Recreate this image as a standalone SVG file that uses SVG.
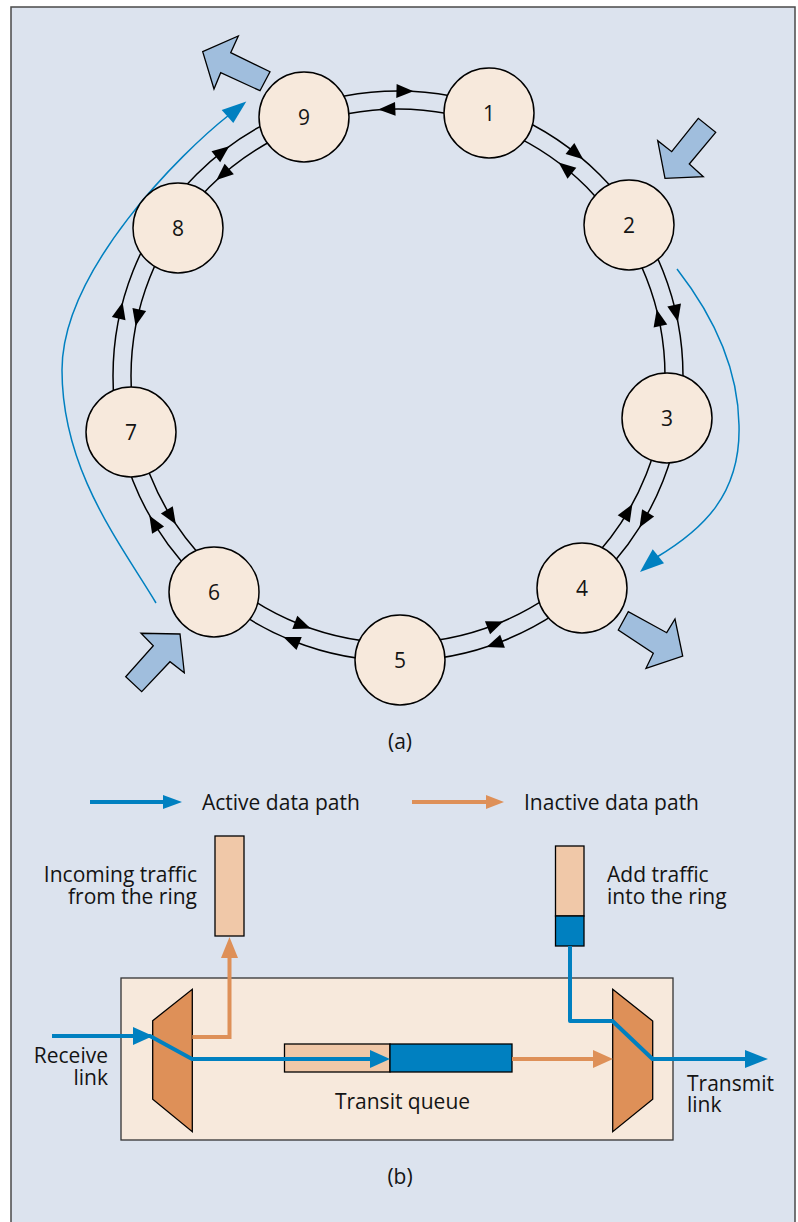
<svg xmlns="http://www.w3.org/2000/svg" width="798" height="1222" viewBox="0 0 798 1222">
<style>
.t{font-family:"Open Sans","Noto Sans","Liberation Sans",sans-serif;font-size:21px;fill:#141414}
.m{text-anchor:middle}
.e{text-anchor:end}
.node{fill:#f7e9dc;stroke:#000;stroke-width:1.5}
.ring{fill:none;stroke:#000;stroke-width:1.5}
.fat{fill:#a0bedd;stroke:#000;stroke-width:1.3}
.blue{fill:none;stroke:#0080c0;stroke-width:1.5}
.bl{fill:none;stroke:#0080c0;stroke-width:4;stroke-linejoin:round}
.or{fill:none;stroke:#de9058;stroke-width:4;stroke-linejoin:miter}
.bf{fill:#0080c0}
.of{fill:#de9058}
.mux{fill:#de9058;stroke:#000;stroke-width:1.3}
.peach{fill:#f0c8a8;stroke:#000;stroke-width:1.3}
</style>
<defs>
<path id="ah" d="M-8.5,-7 L8.5,0 L-8.5,7 Z" fill="#000"/>
</defs>
<rect x="0" y="0" width="798" height="1222" fill="#fff"/>
<rect x="11" y="7" width="784" height="1230" fill="#dce3ee" stroke="#4a4a4a" stroke-width="1.5"/>

<g id="connectors">
<circle class="ring" cx="398" cy="376" r="285"/>
<circle class="ring" cx="398" cy="376" r="267"/>
<use href="#ah" transform="rotate(-88.6 398 376) translate(683 376) rotate(90)"/>
<use href="#ah" transform="rotate(-92.4 398 376) translate(665 376) rotate(-90)"/>
<use href="#ah" transform="rotate(-51.2 398 376) translate(683 376) rotate(90)"/>
<use href="#ah" transform="rotate(-51.2 398 376) translate(665 376) rotate(-90)"/>
<use href="#ah" transform="rotate(-12.7 398 376) translate(683 376) rotate(90)"/>
<use href="#ah" transform="rotate(-12.6 398 376) translate(665 376) rotate(-90)"/>
<use href="#ah" transform="rotate(30.4 398 376) translate(683 376) rotate(90)"/>
<use href="#ah" transform="rotate(30.5 398 376) translate(665 376) rotate(-90)"/>
<use href="#ah" transform="rotate(70.2 398 376) translate(683 376) rotate(90)"/>
<use href="#ah" transform="rotate(68.6 398 376) translate(665 376) rotate(-90)"/>
<use href="#ah" transform="rotate(112 398 376) translate(683 376) rotate(90)"/>
<use href="#ah" transform="rotate(110.9 398 376) translate(665 376) rotate(-90)"/>
<use href="#ah" transform="rotate(149 398 376) translate(683 376) rotate(90)"/>
<use href="#ah" transform="rotate(148.1 398 376) translate(665 376) rotate(-90)"/>
<use href="#ah" transform="rotate(193.3 398 376) translate(683 376) rotate(90)"/>
<use href="#ah" transform="rotate(192.6 398 376) translate(665 376) rotate(-90)"/>
<use href="#ah" transform="rotate(232 398 376) translate(683 376) rotate(90)"/>
<use href="#ah" transform="rotate(229 398 376) translate(665 376) rotate(-90)"/>
<path class="blue" d="M677,269 C705,305 738,360 739,425 C741,495 702,530 657,557"/>
<polygon class="bf" points="640,572 652.7,549.3 664,563.3"/>
<path class="blue" d="M156,603 C120,543 62,470 62,370 C62,270 182,152 229,115"/>
<polygon class="bf" points="246.3,101.5 221.7,110 233.3,123"/>
</g>

<g id="traffic-arrows">
<polygon class="fat" points="202.7,51.7 238.3,36 230.7,52.7 270,71.7 260,90.7 220.7,72.7 214,89"/>
<polygon class="fat" points="665,178.3 657.7,140.7 671.7,151.7 698.3,118.3 715.7,132.3 689.3,164 703.3,176.7"/>
<polygon class="fat" points="618.3,630 628.3,611.7 666.7,632.7 675,619 682.7,656 646,668.3 653.3,653.3"/>
<polygon class="fat" points="180,634 141,633.3 153.3,645.7 125.7,676.7 141.7,691.7 170,661.7 184.3,672.7"/>
</g>

<g id="node-1"><circle class="node" cx="489" cy="113" r="45"/><text class="t m" x="489" y="120.5">1</text></g>
<g id="node-2"><circle class="node" cx="629" cy="225" r="45"/><text class="t m" x="629" y="232.5">2</text></g>
<g id="node-3"><circle class="node" cx="667" cy="418" r="45"/><text class="t m" x="667" y="425.5">3</text></g>
<g id="node-4"><circle class="node" cx="582" cy="588" r="45"/><text class="t m" x="582" y="595.5">4</text></g>
<g id="node-5"><circle class="node" cx="400" cy="660" r="45"/><text class="t m" x="400" y="667.5">5</text></g>
<g id="node-6"><circle class="node" cx="214" cy="592" r="45"/><text class="t m" x="214" y="599.5">6</text></g>
<g id="node-7"><circle class="node" cx="131" cy="432" r="45"/><text class="t m" x="131" y="439.5">7</text></g>
<g id="node-8"><circle class="node" cx="178" cy="228" r="45"/><text class="t m" x="178" y="235.5">8</text></g>
<g id="node-9"><circle class="node" cx="304" cy="117" r="45"/><text class="t m" x="304" y="124.5">9</text></g>

<text class="t m" x="400" y="749">(a)</text>

<g id="legend">
<path class="bl" d="M90,802 H165"/>
<polygon class="bf" points="163,795 182,802 163,809"/>
<text class="t" x="202" y="810">Active data path</text>
<path class="or" d="M412,802 H488"/>
<polygon class="of" points="486,795 504,802 486,809"/>
<text class="t" x="524" y="810">Inactive data path</text>
</g>

<g id="node-station">
<rect x="121" y="978" width="552" height="162" fill="#f7e9dc" stroke="#333" stroke-width="1.3"/>
</g>
<g id="node-incoming">
<rect class="peach" x="215" y="836" width="29" height="100"/>
<text class="t e" x="197" y="882">Incoming traffic</text>
<text class="t e" x="197" y="904">from the ring</text>
</g>
<g id="node-add">
<rect class="peach" x="555.5" y="846" width="28.5" height="70"/>
<rect x="555.5" y="916" width="28.5" height="30" fill="#0080c0" stroke="#000" stroke-width="1.3"/>
<text class="t" x="607" y="882">Add traffic</text>
<text class="t" x="607" y="904">into the ring</text>
</g>
<g id="node-mux-in"><polygon class="mux" points="152.7,1020.7 192.3,989.3 192.3,1131.7 152.7,1099.3"/></g>
<g id="node-mux-out"><polygon class="mux" points="612.7,989.3 652.7,1021 652.7,1099.3 612.7,1131.7"/></g>
<g id="node-queue">
<rect class="peach" x="284.5" y="1044" width="105.5" height="28"/>
<rect x="390" y="1044" width="122" height="28" fill="#0080c0" stroke="#000" stroke-width="1.3"/>
<text class="t m" x="402.5" y="1109">Transit queue</text>
</g>

<g id="data-paths">
<path class="or" d="M192.3,1037 H229.5 V956"/>
<polygon class="of" points="221,958 229.5,937 238,958"/>
<path class="bl" d="M52,1036 H150 L192,1059 H372"/>
<polygon class="bf" points="133,1027 153,1036 133,1045"/>
<polygon class="bf" points="370,1050 390,1059 370,1068"/>
<path class="or" d="M512,1059 H595"/>
<polygon class="of" points="593,1050 613,1059 593,1068"/>
<path class="bl" d="M570,946 V1021 H612.5 L652.5,1059 H748"/>
<polygon class="bf" points="745,1050 768,1059 745,1068"/>
</g>

<text class="t e" x="108" y="1063">Receive</text>
<text class="t e" x="108" y="1085">link</text>
<text class="t" x="687" y="1091">Transmit</text>
<text class="t" x="687" y="1112">link</text>
<text class="t m" x="400" y="1184">(b)</text>
</svg>
